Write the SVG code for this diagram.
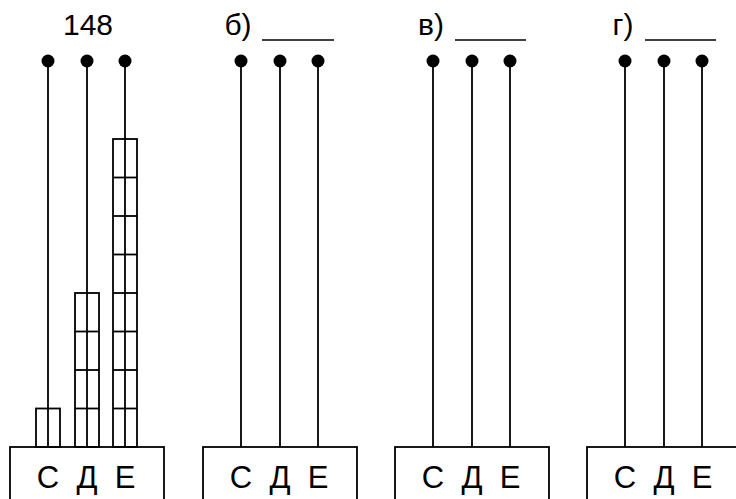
<svg xmlns="http://www.w3.org/2000/svg" width="736" height="499" viewBox="0 0 736 499">
<style>
.ln{stroke:#000;stroke-width:1.8;fill:none}
.t{font-family:"Liberation Sans",Arial,sans-serif;font-size:30px;fill:#000;text-anchor:middle}
.k{font-size:31px}
.u{stroke:#000;stroke-width:1.5}
</style>
<defs>
<g id="abacus">
<rect class="ln" x="-28" y="447" width="154" height="60"/>
<line class="ln" x1="10" y1="61" x2="10" y2="447"/>
<line class="ln" x1="49" y1="61" x2="49" y2="447"/>
<line class="ln" x1="87" y1="61" x2="87" y2="447"/>
<circle cx="10" cy="61" r="6.5"/>
<circle cx="49" cy="61" r="6.5"/>
<circle cx="87" cy="61" r="6.5"/>
<text class="t k" x="10" y="488">С</text>
<text class="t k" x="49" y="488">Д</text>
<text class="t k" x="87" y="488">Е</text>
</g>
</defs>
<g id="abacus-a">
<use href="#abacus" x="38"/>
<text class="t" x="88" y="35">148</text>
<g id="beads">
<rect class="ln" x="36" y="408.5" width="24" height="38.5"/>
<rect class="ln" x="75" y="293" width="24" height="154"/>
<line class="ln" x1="75" y1="331.5" x2="99" y2="331.5"/>
<line class="ln" x1="75" y1="370" x2="99" y2="370"/>
<line class="ln" x1="75" y1="408.5" x2="99" y2="408.5"/>
<rect class="ln" x="113" y="139" width="24" height="308"/>
<line class="ln" x1="113" y1="177.5" x2="137" y2="177.5"/>
<line class="ln" x1="113" y1="216" x2="137" y2="216"/>
<line class="ln" x1="113" y1="254.5" x2="137" y2="254.5"/>
<line class="ln" x1="113" y1="293" x2="137" y2="293"/>
<line class="ln" x1="113" y1="331.5" x2="137" y2="331.5"/>
<line class="ln" x1="113" y1="370" x2="137" y2="370"/>
<line class="ln" x1="113" y1="408.5" x2="137" y2="408.5"/>
</g>
</g>
<g id="abacus-b">
<use href="#abacus" x="231"/>
<text class="t" x="238" y="35">б)</text>
<line class="u" x1="262" y1="40" x2="334" y2="40"/>
</g>
<g id="abacus-v">
<use href="#abacus" x="423"/>
<text class="t" x="431" y="35">в)</text>
<line class="u" x1="455" y1="40" x2="526" y2="40"/>
</g>
<g id="abacus-g">
<use href="#abacus" x="615"/>
<text class="t" x="623" y="35">г)</text>
<line class="u" x1="645" y1="40" x2="716" y2="40"/>
</g>
<g id="connectors"/>
</svg>
